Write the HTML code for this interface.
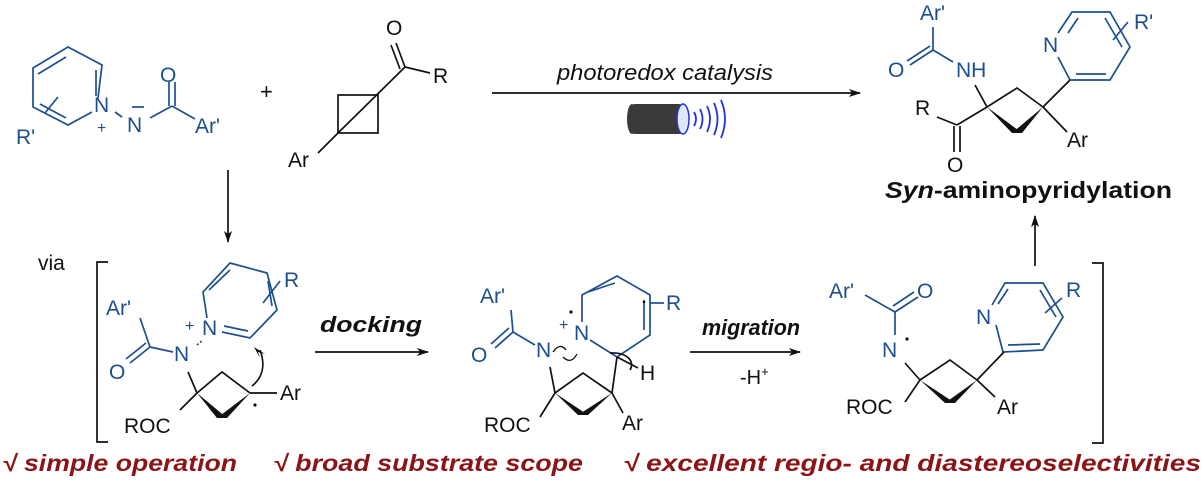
<!DOCTYPE html>
<html><head><meta charset="utf-8"><style>
html,body{margin:0;padding:0;background:#fff;}
svg{display:block;}
text{font-family:"Liberation Sans",Arial,sans-serif;}
.b{fill:#1d4f8e;}
.k{fill:#111;}
.lb{stroke:#1d4f8e;stroke-width:1.7;fill:none;}
.lk{stroke:#111;stroke-width:1.7;fill:none;}
.red{fill:#8b1418;font-weight:bold;font-style:italic;font-size:23px;}
</style></head><body>
<svg width="1204" height="486" viewBox="0 0 1204 486" xmlns="http://www.w3.org/2000/svg" font-size="21">
<defs>
<marker id="ah" markerWidth="12" markerHeight="8" refX="11" refY="4" orient="auto" markerUnits="userSpaceOnUse">
<path d="M0,0 L12,4 L0,8 L3,4 Z" fill="#111"/></marker>
</defs>

<!-- ===== Top-left pyridinium ylide ===== -->
<g class="lb">
<polyline points="98,98 102,65 68,47 33,68 33,107 68,125 92,112"/>
<line x1="38" y1="74" x2="66" y2="57"/>
<line x1="96" y1="70" x2="96" y2="96"/>
<line x1="40" y1="104" x2="66" y2="118"/>
<line x1="45" y1="113" x2="58" y2="97"/>
<line x1="115" y1="112" x2="122" y2="117"/>
<line x1="150" y1="118" x2="172" y2="106"/>
<line x1="169" y1="106" x2="169" y2="82"/>
<line x1="175" y1="106" x2="175" y2="82"/>
<line x1="172" y1="106" x2="195" y2="119"/>
<line x1="132" y1="107" x2="144" y2="107"/>
</g>
<text class="b" x="94" y="112">N</text>
<text class="b" x="97" y="133" font-size="16">+</text>
<text class="b" x="127" y="132">N</text>
<text class="b" x="160" y="82">O</text>
<text class="b" x="195" y="133">Ar'</text>
<text class="b" x="16" y="144">R'</text>

<text class="k" x="260" y="99" font-size="22">+</text>

<!-- bicyclobutane -->
<g class="lk">
<rect x="338" y="95" width="40" height="38"/>
<line x1="338" y1="133" x2="405" y2="67"/>
<line x1="318" y1="153" x2="338" y2="133"/>
<line x1="405" y1="67" x2="396" y2="43"/>
<line x1="400" y1="69" x2="391" y2="45"/>
<line x1="405" y1="67" x2="430" y2="73"/>
</g>
<text class="k" x="386" y="35">O</text>
<text class="k" x="433" y="83">R</text>
<text class="k" x="288" y="167">Ar</text>

<!-- top arrow + lamp -->
<line x1="492" y1="93" x2="860" y2="93" class="lk" marker-end="url(#ah)"/>
<text class="k" x="557" y="80" font-size="22" font-style="italic" textLength="216" lengthAdjust="spacingAndGlyphs">photoredox catalysis</text>
<rect x="632" y="104" width="50" height="30" rx="3" fill="#3a3a3a"/>
<ellipse cx="632" cy="119" rx="5" ry="15" fill="#3a3a3a"/>
<ellipse cx="683" cy="119" rx="6" ry="15" fill="#dfe8ff" stroke="#2233dd" stroke-width="1.5"/>
<g stroke="#2233dd" stroke-width="1.8" fill="none">
<path d="M694,112 q4,7 0,14"/><path d="M700,109 q5,10 0,20"/><path d="M707,106 q6,13 0,26"/><path d="M714,103 q7,16 0,32"/><path d="M721,100 q8,19 0,38"/>
</g>

<!-- ===== Product ===== -->
<g class="lb">
<line x1="933" y1="27" x2="933" y2="50"/>
<line x1="933" y1="50" x2="910" y2="65"/>
<line x1="930" y1="46" x2="907" y2="61"/>
<line x1="933" y1="50" x2="953" y2="62"/>
<polyline points="1070,80 1058,57"/>
<polyline points="1058,33 1072,12 1110,12 1130,47 1110,80 1070,80"/>
<line x1="1078" y1="18" x2="1068" y2="33"/>
<line x1="1105" y1="18" x2="1122" y2="47"/>
<line x1="1076" y1="74" x2="1106" y2="74"/>
<line x1="1113" y1="40" x2="1128" y2="22"/>
</g>
<text class="b" x="920" y="20">Ar'</text>
<text class="b" x="888" y="77">O</text>
<text class="b" x="956" y="77">NH</text>
<text class="b" x="1043" y="52">N</text>
<text class="b" x="1134" y="29">R'</text>
<g class="lk">
<line x1="975" y1="85" x2="987" y2="107"/>
<polyline points="987,107 1017,88 1043,107"/>
<line x1="987" y1="107" x2="957" y2="125"/>
<line x1="957" y1="125" x2="937" y2="117"/>
<line x1="954" y1="126" x2="954" y2="152"/>
<line x1="960" y1="126" x2="960" y2="152"/>
<line x1="1043" y1="107" x2="1067" y2="132"/>
<line x1="1043" y1="107" x2="1070" y2="80"/>
</g>
<path d="M987,107 L1012,133 L1022,133 Z M1043,107 L1012,133 L1022,133 Z" fill="#111"/>
<text class="k" x="915" y="115">R</text>
<text class="k" x="947" y="172">O</text>
<text class="k" x="1067" y="147">Ar</text>
<text class="k" x="885" y="198" font-size="23" font-weight="bold" textLength="287" lengthAdjust="spacingAndGlyphs"><tspan font-style="italic">Syn</tspan>-aminopyridylation</text>

<line x1="1035" y1="266" x2="1035" y2="216" class="lk" marker-end="url(#ah)"/>
<line x1="228" y1="170" x2="228" y2="242" class="lk" marker-end="url(#ah)"/>

<!-- ===== Bottom: via bracket ===== -->
<text class="k" x="38" y="270">via</text>
<polyline points="108,262 97,262 97,442 108,442" class="lk"/>
<polyline points="1092,263 1103,263 1103,443 1092,443" class="lk"/>

<!-- Intermediate 1 -->
<g class="lb">
<line x1="140" y1="318" x2="150" y2="347"/>
<line x1="150" y1="347" x2="130" y2="363"/>
<line x1="146" y1="343" x2="126" y2="359"/>
<line x1="150" y1="347" x2="173" y2="352"/>
<line x1="197" y1="345" x2="203" y2="340" stroke-dasharray="2,2"/>
<polyline points="207,318 203,292 230,263 267,273 277,310 250,338 222,332"/>
<line x1="209" y1="290" x2="230" y2="270"/>
<line x1="268" y1="281" x2="272" y2="306"/>
<line x1="248" y1="331" x2="224" y2="326"/>
<line x1="263" y1="303" x2="280" y2="281"/>
</g>
<text class="b" x="106" y="315">Ar'</text>
<text class="b" x="109" y="379">O</text>
<text class="b" x="174" y="361">N</text>
<text class="b" x="185" y="331" font-size="16">+</text>
<text class="b" x="202" y="335">N</text>
<text class="b" x="284" y="287">R</text>
<g class="lk">
<line x1="188" y1="372" x2="197" y2="393"/>
<polyline points="197,393 222,372 250,393"/>
<line x1="250" y1="393" x2="277" y2="393"/>
<line x1="197" y1="393" x2="180" y2="410"/>
<path d="M252,386 C262,378 266,366 260,350"/>
</g>
<path d="M197,393 L217,418 L227,418 Z M250,393 L217,418 L227,418 Z" fill="#111"/>
<path d="M254,347 L265,354 L258,352 L260,358 Z" fill="#111"/>
<circle cx="255" cy="405" r="1.6" fill="#111"/>
<text class="k" x="280" y="400">Ar</text>
<text class="k" x="124" y="433">ROC</text>

<text class="k" x="320" y="332" font-size="22" font-weight="bold" font-style="italic" textLength="102" lengthAdjust="spacingAndGlyphs">docking</text>
<line x1="315" y1="352" x2="428" y2="352" class="lk" marker-end="url(#ah)"/>

<!-- Intermediate 2 -->
<g class="lb">
<line x1="511" y1="310" x2="513" y2="332"/>
<line x1="513" y1="332" x2="495" y2="348"/>
<line x1="509" y1="328" x2="491" y2="344"/>
<line x1="513" y1="332" x2="535" y2="345"/>
<polyline points="582,322 582,295 617,276 650,295 650,335 617,357 590,340"/>
<line x1="588" y1="292" x2="615" y2="283"/>
<line x1="644" y1="300" x2="644" y2="330"/>
<line x1="650" y1="303" x2="664" y2="303"/>
</g>
<text class="b" x="480" y="303">Ar'</text>
<text class="b" x="471" y="362">O</text>
<text class="b" x="536" y="357">N</text>
<text class="b" x="559" y="330" font-size="16">+</text>
<text class="b" x="574" y="340">N</text>
<circle cx="571" cy="312" r="1.6" fill="#111"/>
<circle cx="644" cy="302" r="1.3" fill="#111"/>
<text class="b" x="666" y="310">R</text>
<g class="lk">
<path d="M553,352 q7,-10 13,-2" stroke-width="1.3"/>
<path d="M563,357 q8,8 14,-3" stroke-width="1.3"/>
<line x1="550" y1="367" x2="555" y2="393"/>
<polyline points="555,393 583,373 612,393"/>
<line x1="617" y1="357" x2="612" y2="393"/>
<line x1="617" y1="357" x2="638" y2="368"/>
<path d="M630,370 C635,362 628,352 610,353"/>
<line x1="555" y1="393" x2="540" y2="417"/>
<line x1="612" y1="393" x2="623" y2="413"/>
</g>
<path d="M555,393 L578,415 L588,415 Z M612,393 L578,415 L588,415 Z" fill="#111"/>
<text class="k" x="640" y="380">H</text>
<text class="k" x="484" y="432">ROC</text>
<text class="k" x="622" y="430">Ar</text>

<text class="k" x="702" y="335" font-size="22" font-weight="bold" font-style="italic" textLength="98" lengthAdjust="spacingAndGlyphs">migration</text>
<line x1="690" y1="352" x2="800" y2="352" class="lk" marker-end="url(#ah)"/>
<text class="k" x="740" y="384" font-size="20">-H<tspan font-size="13" dy="-8">+</tspan></text>

<!-- Intermediate 3 -->
<g class="lb">
<line x1="865" y1="295" x2="895" y2="312"/>
<line x1="895" y1="312" x2="918" y2="297"/>
<line x1="893" y1="306" x2="914" y2="292"/>
<line x1="895" y1="312" x2="895" y2="335"/>
<polyline points="996,325 1003,352 1043,350 1063,317 1043,283 1005,283 992,305"/>
<line x1="1008" y1="345" x2="1040" y2="344"/>
<line x1="1040" y1="290" x2="1056" y2="317"/>
<line x1="1008" y1="289" x2="998" y2="304"/>
<line x1="1045" y1="313" x2="1062" y2="298"/>
</g>
<text class="b" x="829" y="298">Ar'</text>
<text class="b" x="917" y="298">O</text>
<text class="b" x="882" y="357">N</text>
<circle cx="907" cy="339" r="1.6" fill="#111"/>
<text class="b" x="976" y="324">N</text>
<text class="b" x="1066" y="297">R</text>
<g class="lk">
<line x1="905" y1="363" x2="920" y2="380"/>
<polyline points="920,380 950,360 977,380"/>
<line x1="920" y1="380" x2="905" y2="402"/>
<line x1="977" y1="380" x2="995" y2="397"/>
<line x1="977" y1="380" x2="1004" y2="352"/>
</g>
<path d="M920,380 L945,403 L955,403 Z M977,380 L945,403 L955,403 Z" fill="#111"/>
<text class="k" x="846" y="414">ROC</text>
<text class="k" x="997" y="414">Ar</text>

<!-- bottom red text -->
<text class="red" x="2" y="471" textLength="235" lengthAdjust="spacingAndGlyphs">√ simple operation</text>
<text class="red" x="273" y="471" textLength="310" lengthAdjust="spacingAndGlyphs">√ broad substrate scope</text>
<text class="red" x="623" y="471" textLength="578" lengthAdjust="spacingAndGlyphs">√ excellent regio- and diastereoselectivities</text>
</svg>
</body></html>
